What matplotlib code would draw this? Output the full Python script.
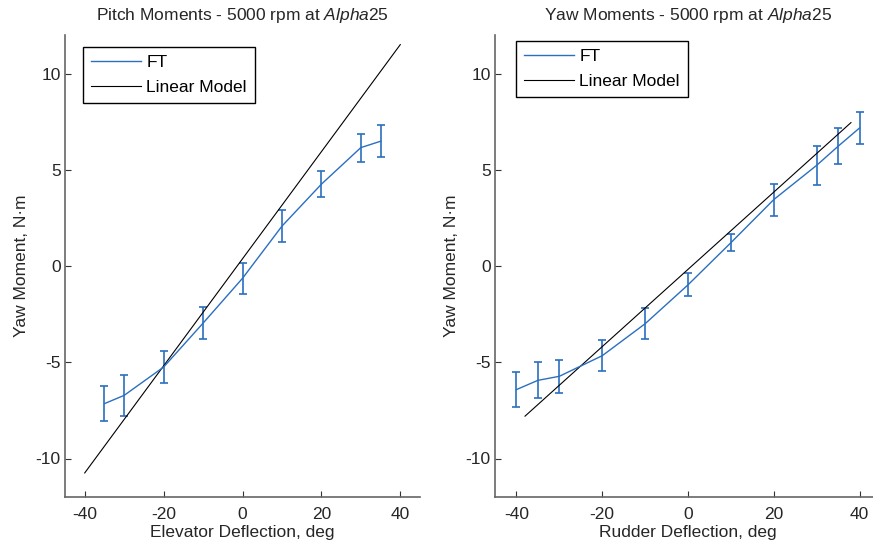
import matplotlib
matplotlib.use("Agg")
import matplotlib.pyplot as plt
from matplotlib.lines import Line2D

plt.rcParams['font.family'] = ['Liberation Sans', 'DejaVu Sans']
plt.rcParams['mathtext.fontset'] = 'custom'
plt.rcParams['mathtext.it'] = 'Liberation Sans:italic'
plt.rcParams['mathtext.rm'] = 'Liberation Sans'

# Pitch (elevator) data
pitch_x = [-35, -30, -20, -10, 0, 10, 20, 30, 35]
pitch_ft = [-7.15, -6.72, -5.25, -2.97, -0.64, 2.07, 4.25, 6.15, 6.48]
pitch_err = [0.9, 1.05, 0.82, 0.82, 0.8, 0.83, 0.69, 0.73, 0.83]
pitch_lin_x = [-40, 40]
pitch_lin_y = [-10.75, 11.5]

# Yaw (rudder) data
yaw_x = [-40, -35, -30, -20, -10, 0, 10, 20, 30, 35, 40]
yaw_ft = [-6.42, -5.94, -5.73, -4.66, -3.0, -0.98, 1.21, 3.45, 5.23, 6.22, 7.17]
yaw_err = [0.92, 0.93, 0.86, 0.79, 0.8, 0.6, 0.44, 0.83, 1.0, 0.93, 0.84]
yaw_lin_x = [-38, 38]
yaw_lin_y = [-7.8, 7.45]

xticks = [-40, -20, 0, 20, 40]
yticks = [-10, -5, 0, 5, 10]

W, H = 873, 547
fig = plt.figure(figsize=(W/100, H/100), dpi=100)
ax1 = fig.add_axes([65/W, (H-497)/H, 355/W, 462/H])
ax2 = fig.add_axes([495/W, (H-497)/H, 386/W, 462/H])

blue = '#2a6fc0'
FS = 12.5
tc = '#262626'

def style(ax, title, xlabel, leg_dx, leg_dy):
    ax.set_xlim(-45, 45)
    ax.set_ylim(-12, 12)
    ax.set_xticks(xticks)
    ax.set_yticks(yticks)
    ax.set_xticklabels([str(v) for v in xticks])
    ax.set_yticklabels([str(v) for v in yticks])
    for s in ['top', 'right']:
        ax.spines[s].set_visible(False)
    for s in ['left', 'bottom']:
        ax.spines[s].set_color('#666666')
        ax.spines[s].set_linewidth(1.2)
    ax.tick_params(direction='in', length=4, width=0.8, color='#333333',
                   labelsize=FS, labelcolor=tc)
    ax.tick_params(axis='y', pad=3)
    ax.tick_params(axis='x', pad=7)
    ax.set_title(title, fontsize=FS, pad=11, color=tc)
    ax.set_xlabel(xlabel, fontsize=FS, color=tc, labelpad=2)
    ax.set_ylabel('Yaw Moment, N\u00b7m', fontsize=FS, color=tc, labelpad=5)
    handles = [Line2D([], [], color=blue, lw=1.0), Line2D([], [], color='black', lw=0.8)]
    bb = ax.get_window_extent()
    anchor = (leg_dx / bb.width, 1 - leg_dy / bb.height)
    leg = ax.legend(handles, ['FT', 'Linear Model'], loc='upper left', fontsize=FS,
                    frameon=True, fancybox=False, edgecolor='black', framealpha=1,
                    handlelength=2.9, handletextpad=0.3, borderpad=0.45,
                    labelspacing=0.56, bbox_to_anchor=anchor, borderaxespad=0.0)
    leg.get_frame().set_linewidth(1.0)

ax1.errorbar(pitch_x, pitch_ft, yerr=pitch_err, color=blue, lw=1.0,
             elinewidth=1.2, capsize=3, capthick=1.2)
ax1.plot(pitch_lin_x, pitch_lin_y, color='black', lw=0.8)
style(ax1, 'Pitch Moments - 5000 rpm at $\\mathit{Alpha25}$', 'Elevator Deflection, deg', 18, 12)

ax2.errorbar(yaw_x, yaw_ft, yerr=yaw_err, color=blue, lw=1.0,
             elinewidth=1.2, capsize=3, capthick=1.2)
ax2.plot(yaw_lin_x, yaw_lin_y, color='black', lw=0.8)
style(ax2, 'Yaw Moments - 5000 rpm at $\\mathit{Alpha25}$', 'Rudder Deflection, deg', 21, 6)

fig.savefig('out.png', dpi=100)
